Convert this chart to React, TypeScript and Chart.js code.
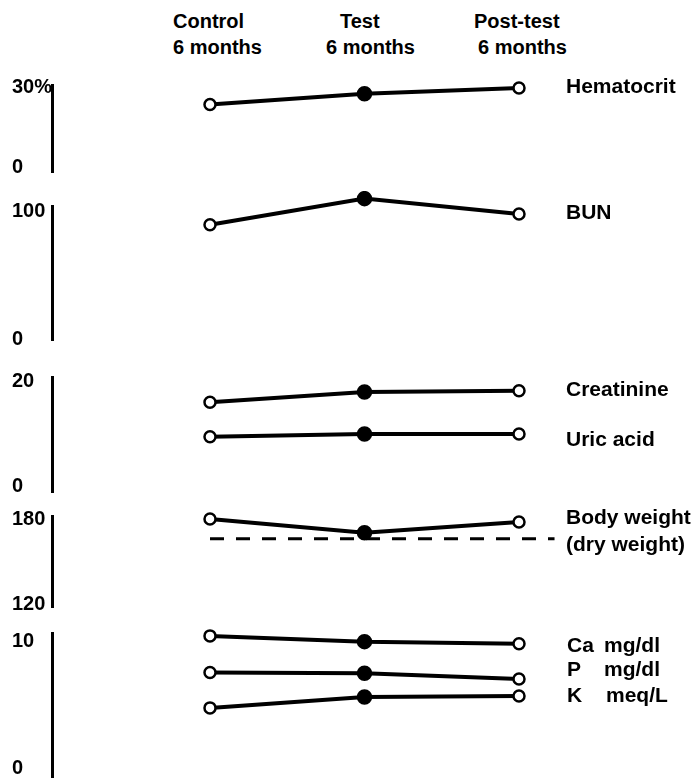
import React, { useEffect, useRef } from 'react';
import { Chart, registerables } from 'chart.js';

Chart.register(...registerables);

// ---- data ----
const PERIODS = ['Control', 'Test', 'Post-test'];
const PERIOD_X = [0, 1, 2];
const HEADER_LINE1 = ['Control', 'Test', 'Post-test'];
const HEADER_LINE2 = ['6 months', '6 months', '6 months'];

const HEMATOCRIT = [23.3, 27.0, 29.0];
const BUN = [86, 105.5, 94];
const CREATININE = [15.6, 17.4, 17.6];
const URIC_ACID = [9.6, 10.1, 10.1];
const BODY_WEIGHT = [178, 169, 176];
const DRY_WEIGHT = 165;
const DRY_WEIGHT_X = [0, 2.23];
const CA = [9.8, 9.4, 9.25];
const P = [7.25, 7.2, 6.8];
const K = [4.8, 5.55, 5.62];

const Y_MIN = [0, 0, 0, 120, 0];
const Y_MAX = [30, 100, 20, 180, 10];
const Y_MIN_LABEL = ['0', '0', '0', '120', '0'];
const Y_MAX_LABEL = ['30%', '100', '20', '180', '10'];

// ---- layout (pixels) ----
const W = 694;
const PAD = 14;
const AXIS_LEFT = 12;
const AXIS_W = 40;
const PLOT_LEFT = AXIS_LEFT + AXIS_W;
const PX_CONTROL = 210;
const PX_POST = 519;
const PX_PER_UNIT = (PX_POST - PX_CONTROL) / 2;
const X_MIN = -(PX_CONTROL - PLOT_LEFT) / PX_PER_UNIT;
const X_MAX = X_MIN + (W - PLOT_LEFT) / PX_PER_UNIT;

const PANEL_BOUNDS = [
  [84, 173],
  [205, 341],
  [376, 493],
  [515, 608],
  [632, 778],
];
// tick-label inset from the axis ends (pixels): [top, bottom]
const LABEL_INSET = [
  [3, 5],
  [6, 1],
  [5, 6],
  [4, 3],
  [9, 9],
];

const FONT = '"Liberation Sans", Arial, Helvetica, sans-serif';

const series = (vals: number[]) => ({
  data: vals.map((v, i) => ({ x: PERIOD_X[i], y: v })),
  borderColor: '#000',
  borderWidth: 4,
  pointRadius: [5.5, 7, 5.5],
  pointHoverRadius: 0,
  pointBackgroundColor: ['#fff', '#000', '#fff'],
  pointBorderColor: '#000',
  pointBorderWidth: [2.5, 1.5, 2.5],
  tension: 0,
  clip: false as any,
});

const PANEL_SERIES = [
  [series(HEMATOCRIT)],
  [series(BUN)],
  [series(CREATININE), series(URIC_ACID)],
  [
    series(BODY_WEIGHT),
    {
      data: DRY_WEIGHT_X.map((x) => ({ x, y: DRY_WEIGHT })),
      borderColor: '#000',
      borderWidth: 3,
      borderDash: [14, 12],
      pointRadius: 0,
      tension: 0,
      clip: false as any,
    },
  ],
  [series(CA), series(P), series(K)],
];

function Panel({ idx }: { idx: number }) {
  const ref = useRef<HTMLCanvasElement>(null);
  const [top, bottom] = PANEL_BOUNDS[idx];
  const h = bottom - top + 2 * PAD;
  useEffect(() => {
    const min = Y_MIN[idx];
    const max = Y_MAX[idx];
    const unitPerPx = (max - min) / (bottom - top);
    const [insTop, insBot] = LABEL_INSET[idx];
    const chart = new Chart(ref.current!, {
      type: 'line',
      data: { labels: PERIODS, datasets: PANEL_SERIES[idx] as any },
      options: {
        animation: false,
        responsive: false,
        maintainAspectRatio: false,
        events: [],
        layout: { autoPadding: false, padding: { left: AXIS_LEFT, right: 0, top: PAD, bottom: PAD } },
        plugins: { legend: { display: false }, tooltip: { enabled: false } },
        scales: {
          x: { type: 'linear', display: false, min: X_MIN, max: X_MAX },
          y: {
            type: 'linear',
            min,
            max,
            grid: { display: false },
            border: { display: true, color: '#000', width: 3 },
            afterBuildTicks: (s: any) => {
              s.ticks = [{ value: min + insBot * unitPerPx }, { value: max - insTop * unitPerPx }];
            },
            afterFit: (s: any) => {
              s.width = AXIS_W;
            },
            ticks: {
              crossAlign: 'far',
              color: '#000',
              font: { family: FONT, weight: 'bold', size: 20 },
              callback: (_v: any, i: number) => (i === 1 ? Y_MAX_LABEL[idx] : Y_MIN_LABEL[idx]),
            },
          },
        },
      } as any,
    });
    return () => chart.destroy();
  }, [idx]);
  return (
    <canvas
      ref={ref}
      width={W}
      height={h}
      style={{ position: 'absolute', left: 0, top: top - PAD, width: W, height: h }}
    />
  );
}

const textStyle: React.CSSProperties = {
  position: 'absolute',
  fontFamily: FONT,
  fontWeight: 'bold',
  color: '#000',
  whiteSpace: 'pre',
};

function T({ x, y, s = 20, children }: { x: number; y: number; s?: number; children: React.ReactNode }) {
  return (
    <div style={{ ...textStyle, fontSize: s, lineHeight: `${s}px`, left: x, top: y - s / 2 }}>{children}</div>
  );
}

export default function App() {
  return (
    <div style={{ position: 'absolute', left: 0, top: 0, width: W, height: 779, background: '#fff' }}>
      {[0, 1, 2, 3, 4].map((i) => (
        <Panel key={i} idx={i} />
      ))}
      <T x={173} y={21}>{HEADER_LINE1[0]}</T>
      <T x={173} y={47}>{HEADER_LINE2[0]}</T>
      <T x={340} y={21}>{HEADER_LINE1[1]}</T>
      <T x={326} y={47}>{HEADER_LINE2[1]}</T>
      <T x={474} y={21}>{HEADER_LINE1[2]}</T>
      <T x={478} y={47}>{HEADER_LINE2[2]}</T>

      <T x={566} y={85} s={21}>Hematocrit</T>
      <T x={566} y={211} s={21}>BUN</T>
      <T x={566} y={388} s={21}>Creatinine</T>
      <T x={566} y={438} s={21}>Uric acid</T>
      <T x={566} y={516} s={21}>Body weight</T>
      <T x={566} y={543} s={21}>(dry weight)</T>
      <T x={567} y={644} s={21}>Ca</T>
      <T x={604} y={644} s={21}>mg/dl</T>
      <T x={567} y={668} s={21}>P</T>
      <T x={604} y={668} s={21}>mg/dl</T>
      <T x={567} y={694} s={21}>K</T>
      <T x={606} y={694} s={21}>meq/L</T>
    </div>
  );
}
